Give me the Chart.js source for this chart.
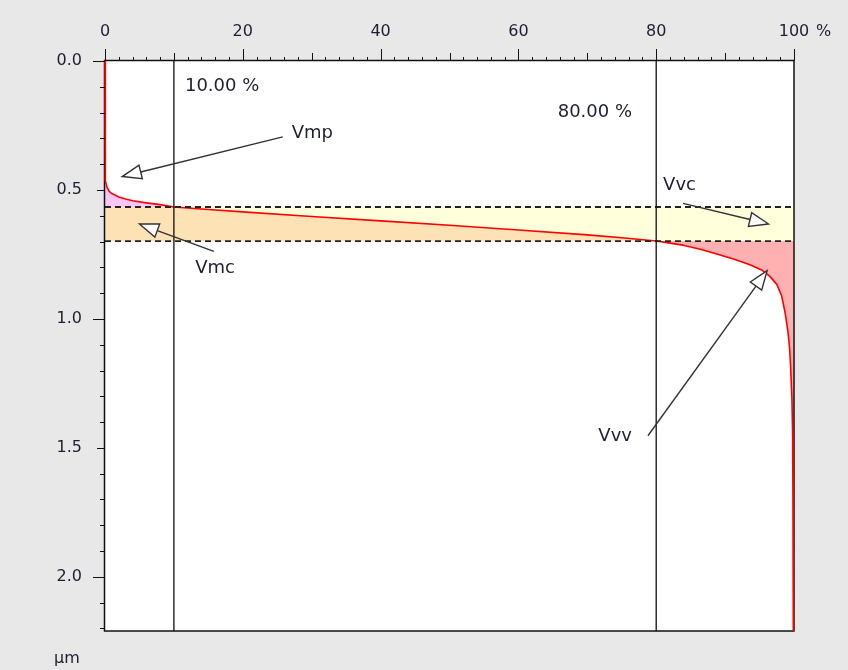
<!DOCTYPE html>
<html>
<head>
<meta charset="utf-8">
<script src="https://cdn.jsdelivr.net/npm/chart.js@4.4.1/dist/chart.umd.min.js"></script>
<style>
  html, body { margin: 0; padding: 0; background: #e8e8e8; }
  #wrap { width: 848px; height: 670px; }
</style>
</head>
<body>
<div id="wrap"><canvas id="c" width="848" height="670"></canvas></div>
<script>
// Areal material ratio curve: material ratio (%) against depth (µm)
const materialRatio = [0, 0, 0.1, 0.3, 0.6, 1, 2, 3, 4, 6, 8, 10, 15, 20, 30, 40, 50, 60, 70, 75, 80,
  82, 83.9, 86.4, 88.8, 91.2, 93.6, 95.3, 96.5, 97.5, 98.2, 98.7, 99.1, 99.35, 99.5, 99.7, 99.8, 99.85, 99.9];
const heightDepth = [0, 0.40, 0.465, 0.49, 0.505, 0.514, 0.527, 0.535, 0.542, 0.55, 0.557, 0.566, 0.576, 0.585, 0.603, 0.62, 0.637, 0.655, 0.674, 0.685, 0.698,
  0.706, 0.714, 0.73, 0.748, 0.768, 0.79, 0.81, 0.835, 0.866, 0.91, 0.975, 1.045, 1.11, 1.18, 1.31, 1.45, 1.70, 2.21];

// Material ratio thresholds and the depths where the curve crosses them
const ratioLevels = [10, 80];
const depthLevels = [0.566, 0.698];
const levelLabels = ['10.00 %', '80.00 %'];
const levelLabelPos = [[11.6, 0.097], [65.7, 0.20]];

// Volume parameter callouts
const volumeNames = ['Vmp', 'Vmc', 'Vvc', 'Vvv'];
const volumeLabelPos = [[27.1, 0.279], [13.1, 0.802], [81.0, 0.481], [71.6, 1.457]];
const arrowTail = [[25.8, 0.294], [15.8, 0.738], [83.9, 0.552], [78.8, 1.453]];
const arrowTip = [[2.5, 0.448], [5.0, 0.632], [96.3, 0.632], [96.1, 0.813]];

// Axes
const xTickValues = [0, 20, 40, 60, 80, 100];
const yTickValues = [0, 0.5, 1.0, 1.5, 2.0];
const ratioMax = 100;
const depthMax = 2.21;
const depthUnit = 'µm';

const TEXT = '#1e1e32';
const FONT_TICK = '16px "DejaVu Sans"';
const FONT_NOTE = '18px "DejaVu Sans"';

const curvePoints = materialRatio.map((x, i) => ({ x, y: heightDepth[i] }));

// Curve points between two depths, with interpolated ends
function curveBetween(d0, d1) {
  const out = [];
  const interp = (a, b, d) => ({ x: a.x + (b.x - a.x) * (d - a.y) / (b.y - a.y), y: d });
  for (let i = 0; i < curvePoints.length; i++) {
    const p = curvePoints[i];
    const prev = curvePoints[i - 1];
    if (prev && prev.y < d0 && p.y > d0) out.push(interp(prev, p, d0));
    if (p.y >= d0 && p.y <= d1) out.push(p);
    if (prev && prev.y < d1 && p.y > d1) out.push(interp(prev, p, d1));
  }
  return out;
}

const volumeFills = {
  id: 'volumeFills',
  beforeDatasetsDraw(chart) {
    const { ctx, chartArea: a, scales: { x, y } } = chart;
    const D1 = depthLevels[0], D2 = depthLevels[1];
    const poly = (pts, color) => {
      ctx.beginPath();
      pts.forEach((p, i) => {
        const px = x.getPixelForValue(p.x), py = y.getPixelForValue(p.y);
        i ? ctx.lineTo(px, py) : ctx.moveTo(px, py);
      });
      ctx.closePath();
      ctx.fillStyle = color;
      ctx.fill();
    };
    ctx.save();
    ctx.fillStyle = '#ffffff';
    ctx.fillRect(a.left, a.top, a.right - a.left, a.bottom - a.top);
    ctx.beginPath();
    ctx.rect(a.left, a.top, a.right - a.left, a.bottom - a.top);
    ctx.clip();
    const peak = curveBetween(0, D1);
    poly([...peak, { x: 0, y: D1 }, { x: 0, y: 0 }], '#f8c6f6');
    const core = curveBetween(D1, D2);
    poly([{ x: 0, y: D1 }, ...core, { x: 0, y: D2 }], '#fde2b6');
    poly([...core, { x: ratioMax, y: D2 }, { x: ratioMax, y: D1 }], '#ffffdc');
    const valley = curveBetween(D2, depthMax);
    poly([...valley, { x: ratioMax, y: depthMax }, { x: ratioMax, y: D2 }], '#ffb0b0');
    ctx.restore();

    // plot frame
    ctx.save();
    ctx.strokeStyle = '#111';
    ctx.lineWidth = 1.5;
    ctx.strokeRect(a.left - 0.5, a.top - 0.5, a.right - a.left + 0.5, a.bottom - a.top + 0.5);
    ctx.restore();
  }
};

const tickMarks = {
  id: 'tickMarks',
  afterDraw(chart) {
    const { ctx, chartArea: a, scales: { x, y } } = chart;
    ctx.save();
    ctx.strokeStyle = '#111';
    ctx.lineWidth = 1;
    for (let v = 0; v <= ratioMax + 1e-9; v += 2) {
      const len = v % 20 === 0 ? 12 : (v % 10 === 0 ? 8 : 4);
      const px = Math.round(x.getPixelForValue(v)) + 0.5;
      ctx.beginPath(); ctx.moveTo(px, a.top); ctx.lineTo(px, a.top - len); ctx.stroke();
    }
    for (let i = 0; i * 0.1 <= depthMax + 1e-9; i++) {
      const len = i % 10 === 0 ? 12 : (i % 5 === 0 ? 8 : 5);
      const py = Math.round(y.getPixelForValue(i * 0.1)) + 0.5;
      ctx.beginPath(); ctx.moveTo(a.left, py); ctx.lineTo(a.left - len, py); ctx.stroke();
    }
    // unit texts
    ctx.fillStyle = TEXT;
    ctx.font = FONT_TICK;
    ctx.textBaseline = 'middle';
    ctx.textAlign = 'left';
    ctx.fillText('%', x.getPixelForValue(ratioMax) + 22, 32);
    ctx.fillText(depthUnit, 54, a.bottom + 28);
    ctx.restore();
  }
};

const callouts = {
  id: 'callouts',
  afterDatasetsDraw(chart) {
    const { ctx, scales: { x, y } } = chart;
    const P = (p) => [x.getPixelForValue(p[0]), y.getPixelForValue(p[1])];
    ctx.save();
    ctx.fillStyle = TEXT;
    ctx.font = FONT_NOTE;
    ctx.textAlign = 'left';
    ctx.textBaseline = 'middle';
    levelLabels.forEach((t, i) => { const [px, py] = P(levelLabelPos[i]); ctx.fillText(t, px, py); });
    volumeNames.forEach((t, i) => { const [px, py] = P(volumeLabelPos[i]); ctx.fillText(t, px, py); });

    arrowTail.forEach((tail, i) => {
      const [x0, y0] = P(tail);
      const [x1, y1] = P(arrowTip[i]);
      const ang = Math.atan2(y1 - y0, x1 - x0);
      const L = 19, W = 7;
      const bx = x1 - L * Math.cos(ang), by = y1 - L * Math.sin(ang);
      ctx.strokeStyle = '#333';
      ctx.lineWidth = 1.4;
      ctx.beginPath(); ctx.moveTo(x0, y0); ctx.lineTo(bx, by); ctx.stroke();
      ctx.beginPath();
      ctx.moveTo(x1, y1);
      ctx.lineTo(bx + W * Math.sin(ang), by - W * Math.cos(ang));
      ctx.lineTo(bx - W * Math.sin(ang), by + W * Math.cos(ang));
      ctx.closePath();
      ctx.fillStyle = '#ffffff';
      ctx.fill();
      ctx.stroke();
    });
    ctx.restore();
  }
};

const lineSet = (data, color, width, dash) => ({
  data, showLine: true, borderColor: color, borderWidth: width, borderDash: dash || [],
  pointRadius: 0, fill: false, tension: 0
});

const datasets = [
  ...ratioLevels.map(r => lineSet([{ x: r, y: 0 }, { x: r, y: depthMax }], '#111', 1.3)),
  ...depthLevels.map(d => lineSet([{ x: 0, y: d }, { x: ratioMax, y: d }], '#222', 1.8, [6, 4])),
  Object.assign(lineSet(curvePoints, '#ff0000', 1.6), { clip: 2, borderJoinStyle: 'round' })
];

new Chart(document.getElementById('c'), {
  type: 'scatter',
  data: { datasets },
  options: {
    responsive: false,
    animation: false,
    devicePixelRatio: 1,
    layout: { padding: { left: 0, top: 0, right: 54, bottom: 39 } },
    plugins: { legend: { display: false }, tooltip: { enabled: false } },
    scales: {
      x: {
        type: 'linear', position: 'top', min: 0, max: ratioMax,
        afterFit: s => { s.height = 61; },
        afterBuildTicks: s => { s.ticks = xTickValues.map(v => ({ value: v })); },
        grid: { display: false, drawTicks: false },
        border: { display: false },
        ticks: { color: TEXT, font: { family: 'DejaVu Sans', size: 16 }, padding: 20, maxRotation: 0,
                 callback: v => String(v) }
      },
      y: {
        type: 'linear', reverse: true, min: 0, max: depthMax,
        afterFit: s => { s.width = 105; },
        afterBuildTicks: s => { s.ticks = yTickValues.map(v => ({ value: v })); },
        grid: { display: false, drawTicks: false },
        border: { display: false },
        ticks: { color: TEXT, font: { family: 'DejaVu Sans', size: 16 }, padding: 23,
                 callback: v => Number(v).toFixed(1) }
      }
    }
  },
  plugins: [volumeFills, callouts, tickMarks]
});
</script>
</body>
</html>
